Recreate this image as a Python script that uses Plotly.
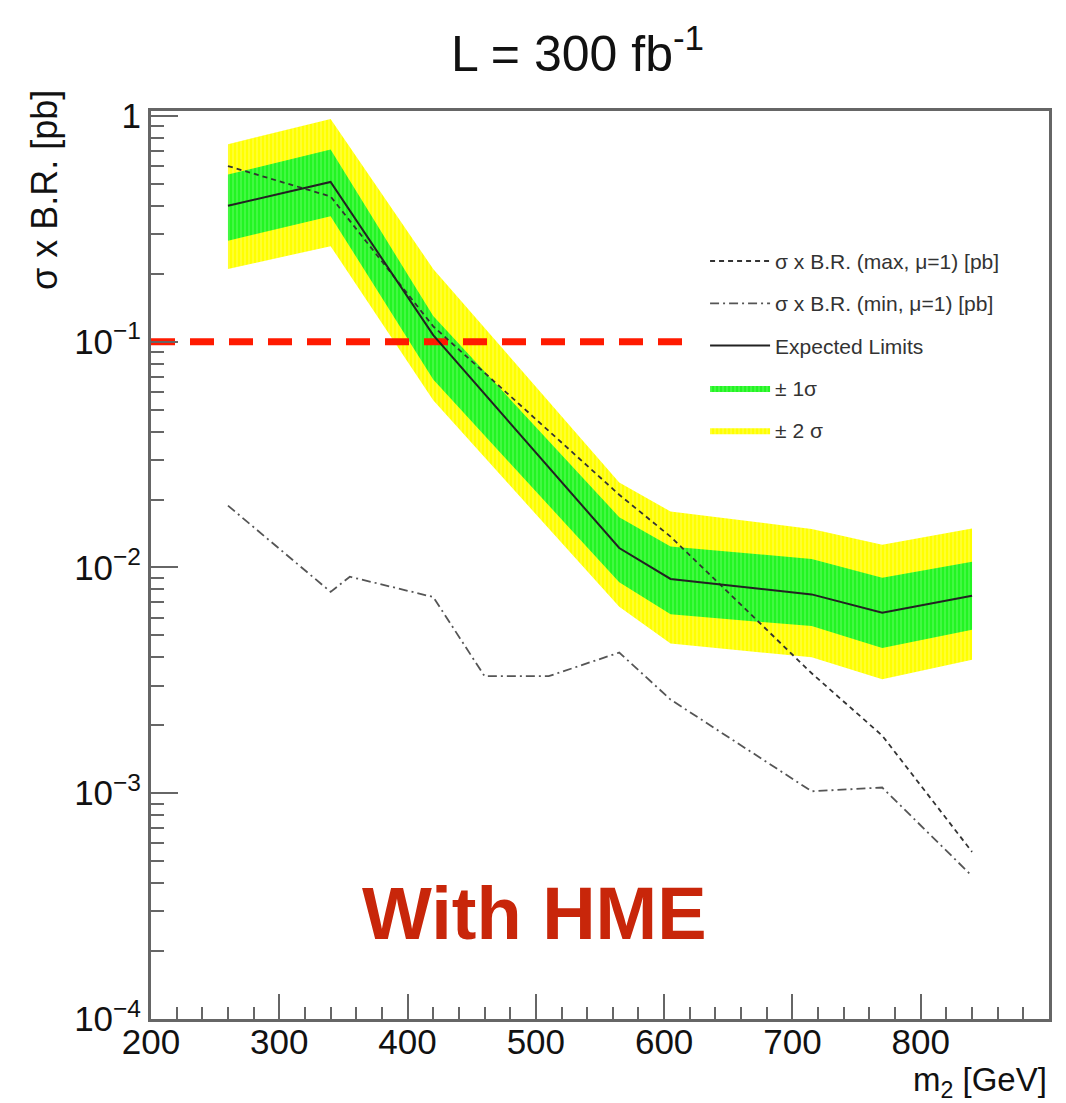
import plotly.graph_objects as go

# ---------------- data ----------------
mass = [260, 340, 420, 565, 605, 715, 770, 840]
expected = [0.40, 0.51, 0.107, 0.0122, 0.0089, 0.0076, 0.0063, 0.0075]
band2_up = [0.75, 0.97, 0.21, 0.0238, 0.0177, 0.0148, 0.0126, 0.0149]
band1_up = [0.55, 0.71, 0.13, 0.0167, 0.0124, 0.0109, 0.0090, 0.0106]
band1_dn = [0.28, 0.36, 0.068, 0.0086, 0.0062, 0.0055, 0.0044, 0.0053]
band2_dn = [0.21, 0.265, 0.055, 0.0067, 0.0046, 0.0040, 0.0032, 0.0039]

mass_max = [260, 340, 420, 565, 605, 715, 770, 840]
xsec_max = [0.60, 0.44, 0.117, 0.021, 0.0137, 0.0034, 0.0018, 0.00055]

mass_min = [260, 340, 355, 420, 460, 510, 565, 605, 715, 770, 840]
xsec_min = [0.0188, 0.0078, 0.0091, 0.0074, 0.0033, 0.0033, 0.0042, 0.0026, 0.00102, 0.00106, 0.00043]

ref_x = [200, 625]
ref_y = [0.1, 0.1]

y_tickvals = [1e-4, 1e-3, 1e-2, 1e-1, 1]
y_ticktext = ["10<sup>−4</sup>", "10<sup>−3</sup>", "10<sup>−2</sup>", "10<sup>−1</sup>", "1"]

FONT = "Liberation Sans, Arial, Helvetica, sans-serif"

fig = go.Figure()

def band(up, dn, fill, stripe, name, rank):
    return go.Scatter(
        x=mass + mass[::-1],
        y=up + dn[::-1],
        fill="toself",
        fillcolor=fill,
        fillpattern=dict(shape="|", bgcolor=fill, fgcolor=stripe, size=4, solidity=0.3),
        line=dict(width=0, color=fill),
        mode="lines",
        name=name,
        legendrank=rank,
        legendgroup=name,
        hoverinfo="skip",
    )

fig.add_trace(band(band2_up, band2_dn, "#ffff00", "#ffff99", "± 2 σ", 5))
fig.add_trace(band(band1_up, band1_dn, "#22f522", "#8cff8c", "± 1σ", 4))

fig.add_trace(go.Scatter(x=ref_x, y=ref_y, mode="lines",
                         line=dict(color="#ff1a00", width=7, dash="24px,15px"),
                         showlegend=False))

fig.add_trace(go.Scatter(x=mass_max, y=xsec_max, mode="lines",
                         line=dict(color="#333333", width=1.8, dash="5px,4px"),
                         name="σ x B.R. (max, μ=1) [pb]", legendrank=1,
                         legendgroup="max"))
fig.add_trace(go.Scatter(x=mass_min, y=xsec_min, mode="lines",
                         line=dict(color="#555555", width=1.8, dash="9px,4px,2px,4px"),
                         name="σ x B.R. (min, μ=1) [pb]", legendrank=2,
                         legendgroup="min"))
fig.add_trace(go.Scatter(x=mass, y=expected, mode="lines",
                         line=dict(color="#222222", width=2),
                         name="Expected Limits", legendrank=3,
                         legendgroup="exp"))

axis_col = "#666666"
fig.update_layout(
    width=1066, height=1103,
    margin=dict(l=151, r=17, t=111, b=84),
    paper_bgcolor="white", plot_bgcolor="white",
    font=dict(family=FONT, color="#111111"),
    showlegend=True,
    legend=dict(x=0.617, y=0.857, xanchor="left", yanchor="top",
                bgcolor="rgba(0,0,0,0)", font=dict(size=21, color="#333333"),
                traceorder="grouped", tracegroupgap=12, itemwidth=60),
    xaxis=dict(
        range=[200, 900], dtick=100, tick0=200,
        ticks="inside", ticklen=25, tickwidth=2, tickcolor=axis_col,
        minor=dict(dtick=20, ticks="inside", ticklen=12, tickwidth=2, tickcolor=axis_col),
        showline=True, linecolor=axis_col, linewidth=3, mirror=True,
        showgrid=False, zeroline=False,
        tickfont=dict(size=35, family=FONT, color="#111111"),
        ticklabelstandoff=-10,
    ),
    yaxis=dict(
        type="log", range=[-4, 0.022],
        tickmode="array", tickvals=y_tickvals, ticktext=y_ticktext,
        ticks="inside", ticklen=27, tickwidth=2, tickcolor=axis_col,
        minor=dict(dtick="D1", ticks="inside", ticklen=13, tickwidth=2, tickcolor=axis_col, showgrid=False),
        showline=True, linecolor=axis_col, linewidth=3, mirror=True,
        showgrid=False, zeroline=False,
        tickfont=dict(size=35, family=FONT, color="#111111"),
    ),
    annotations=[
        dict(text="L = 300 fb<sup>-1</sup>", xref="paper", yref="paper",
             x=0.4755, y=1.067, xanchor="center", yanchor="middle",
             showarrow=False, font=dict(size=50, family=FONT, color="#111111")),
        dict(text="m<sub>2</sub> [GeV]", xref="paper", yref="paper",
             x=1.0, y=-0.069, xanchor="right", yanchor="middle",
             showarrow=False, font=dict(size=33, family=FONT, color="#111111")),
        dict(text="σ x B.R. [pb]", xref="paper", yref="paper",
             x=-0.118, y=0.913, xanchor="center", yanchor="middle", textangle=-90,
             showarrow=False, font=dict(size=36, family=FONT, color="#111111")),
        dict(text="<b>With HME</b>", xref="paper", yref="paper",
             x=0.4276, y=0.1167, xanchor="center", yanchor="middle",
             showarrow=False, font=dict(size=74, family=FONT, color="#c8260a")),
    ],
)

fig.write_html("out.html")
